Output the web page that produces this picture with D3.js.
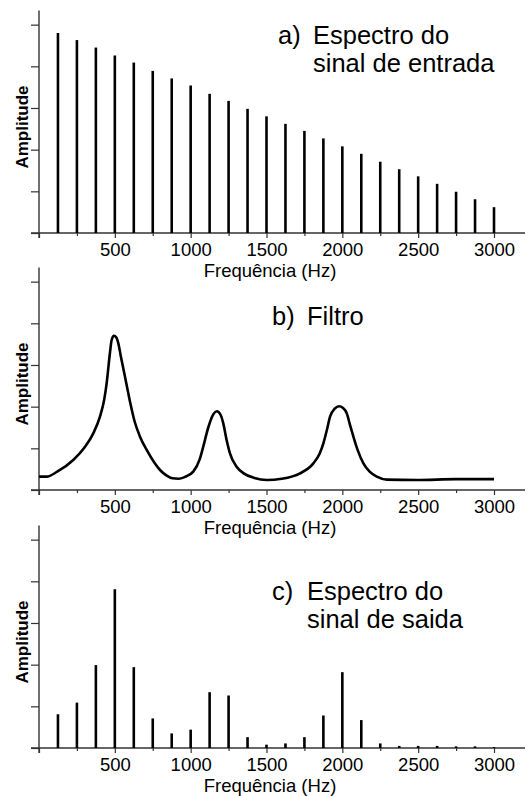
<!DOCTYPE html>
<html>
<head>
<meta charset="utf-8">
<script src="https://cdn.jsdelivr.net/npm/d3@7"></script>
<style>
    body { margin: 0; background: #fff; }
    text { font-family: "Liberation Sans", Arial, sans-serif; fill: #000; }
</style>
</head>
<body>
<div id="chart"></div>
<script>
// harmonics of the input signal (Hz)
var harmonics = [125, 250, 375, 500, 625, 750, 875, 1000, 1125, 1250, 1375, 1500,
                 1625, 1750, 1875, 2000, 2125, 2250, 2375, 2500, 2625, 2750, 2875, 3000];

// a) input spectrum amplitudes
var inputAmp = [4.80, 4.63, 4.45, 4.26, 4.09, 3.89, 3.71, 3.54, 3.34, 3.17, 2.98, 2.80,
                2.62, 2.45, 2.27, 2.08, 1.90, 1.71, 1.53, 1.36, 1.18, 0.99, 0.81, 0.62];

// b) filter response
var filterFreq = [0, 50, 120, 226, 300, 358, 402, 430, 446, 468, 479, 494, 510, 523, 540, 567,
                  600, 630, 666, 710, 760, 798, 840, 880, 920, 960, 1017, 1060, 1083, 1116, 1150,
                  1172, 1198, 1215, 1237, 1259, 1303, 1350, 1420, 1501, 1600, 1721, 1809,
                  1850, 1875, 1900, 1919, 1950, 1978, 2005, 2029, 2050, 2073, 2100, 2139, 2180,
                  2227, 2293, 2490, 2750, 3000];
var filterAmp = [0.32, 0.32, 0.44, 0.72, 1.02, 1.36, 1.76, 2.17, 2.56, 3.30, 3.60, 3.70, 3.66,
                 3.52, 3.20, 2.72, 2.12, 1.65, 1.28, 0.96, 0.66, 0.48, 0.35, 0.28, 0.27, 0.31, 0.44,
                 0.74, 1.04, 1.50, 1.82, 1.89, 1.80, 1.60, 1.20, 0.88, 0.56, 0.40, 0.29,
                 0.24, 0.27, 0.40, 0.64, 0.87, 1.12, 1.47, 1.76, 1.95, 2.01, 1.97, 1.84, 1.57,
                 1.28, 0.97, 0.64, 0.44, 0.32, 0.25, 0.24, 0.26, 0.26];

// c) output spectrum amplitudes
var outputAmp = [0.81, 1.09, 1.99, 3.81, 1.94, 0.71, 0.35, 0.44, 1.34, 1.26, 0.26, 0.08,
                 0.11, 0.26, 0.78, 1.82, 0.67, 0.11, 0.05, 0.05, 0.05, 0.04, 0.04, 0.02];

var xTicks = [0, 250, 500, 750, 1000, 1250, 1500, 1750, 2000, 2250, 2500, 2750, 3000];
var yTicks = [0, 1, 2, 3, 4, 5];

var panelLabels = ["a)", "b)", "c)"];
var panelTitles = [["Espectro do", "sinal de entrada"], ["Filtro"], ["Espectro do", "sinal de saida"]];


Spectra = (function() {

    var width = 528,
        height = 796,
        left = 39,
        unit = 41.67;

    var x = d3.scaleLinear().domain([0, 3000]).range([left, left + 455]);

    var svg = d3.select("#chart").append("svg")
        .attr("width", width)
        .attr("height", height);

    // baseline (zero) position of each panel
    var zeros = [233, 490, 748];

    var drawAxes = function(g, y, zero, i) {
        // x axis line
        g.append("line")
            .attr("x1", 31).attr("x2", 525)
            .attr("y1", zero).attr("y2", zero)
            .attr("stroke", "#333").attr("stroke-width", 1.4);

        // y axis line
        g.append("line")
            .attr("x1", left).attr("x2", left)
            .attr("y1", y(5.34)).attr("y2", zero + 5)
            .attr("stroke", "#333").attr("stroke-width", 1.4);

        var xAxis = d3.axisBottom(x)
            .tickValues(xTicks)
            .tickSize(0)
            .tickFormat(function(d) { return (d % 500 == 0 && d > 0) ? d : ""; });

        var xg = g.append("g")
            .attr("transform", "translate(0," + zero + ")")
            .call(xAxis);
        xg.select(".domain").remove();
        xg.selectAll(".tick line")
            .attr("y2", function(d) { return d % 500 == 0 ? 5 : 3; })
            .attr("stroke", "#333").attr("stroke-width", 1.2);
        xg.selectAll(".tick text")
            .attr("y", 23).attr("dy", 0)
            .style("font-size", "18.5px")
            .style("font-family", "'Liberation Sans', Arial, sans-serif");

        var yAxis = d3.axisLeft(y)
            .tickValues(yTicks)
            .tickSize(8)
            .tickFormat("");

        var yg = g.append("g")
            .attr("transform", "translate(" + left + ",0)")
            .call(yAxis);
        yg.select(".domain").remove();
        yg.selectAll(".tick line").attr("stroke", "#333").attr("stroke-width", 1.2);

        g.append("text")
            .attr("x", 270).attr("y", zero + 44)
            .attr("text-anchor", "middle")
            .style("font-size", "18.5px")
            .text("Frequência (Hz)");

        g.append("text")
            .attr("transform", "translate(28," + (zero - 106) + ") rotate(-90)")
            .attr("text-anchor", "middle")
            .style("font-size", "17px")
            .style("font-weight", "bold")
            .text("Amplitude");
    }

    var drawTitle = function(g, zero, i) {
        var lx = i == 0 ? 278 : 272,
            tx = i == 0 ? 313 : 307,
            ty = [zero - 189, zero - 165, zero - 148][i];

        g.append("text")
            .attr("x", lx).attr("y", ty)
            .style("font-size", "25.5px")
            .text(panelLabels[i]);

        g.selectAll("text.title")
            .data(panelTitles[i])
            .enter().append("text")
            .attr("class", "title")
            .attr("x", tx)
            .attr("y", function(d, k) { return ty + k * 28; })
            .style("font-size", "25.5px")
            .text(function(d) { return d; });
    }

    var drawStems = function(g, y, values) {
        g.selectAll("line.stem")
            .data(values)
            .enter().append("line")
            .attr("class", "stem")
            .attr("x1", function(d, i) { return x(harmonics[i]); })
            .attr("x2", function(d, i) { return x(harmonics[i]); })
            .attr("y1", y(0))
            .attr("y2", function(d) { return y(d); })
            .attr("stroke", "#000")
            .attr("stroke-width", 2.6);
    }

    var init = function() {
        zeros.forEach(function(zero, i) {
            var g = svg.append("g");
            var y = d3.scaleLinear().domain([0, 5]).range([zero, zero - 5 * unit]);

            drawAxes(g, y, zero, i);
            drawTitle(g, zero, i);

            if (i == 0) {
                drawStems(g, y, inputAmp);
            } else if (i == 2) {
                drawStems(g, y, outputAmp);
            } else {
                var line = d3.line()
                    .x(function(d, k) { return x(filterFreq[k]); })
                    .y(function(d) { return y(d); })
                    .curve(d3.curveMonotoneX);
                g.append("path")
                    .datum(filterAmp)
                    .attr("d", line)
                    .attr("fill", "none")
                    .attr("stroke", "#000")
                    .attr("stroke-width", 2.6)
                    .attr("stroke-linejoin", "round");
            }
        });
    }

    return { init: init };

})();

Spectra.init();
</script>
</body>
</html>
